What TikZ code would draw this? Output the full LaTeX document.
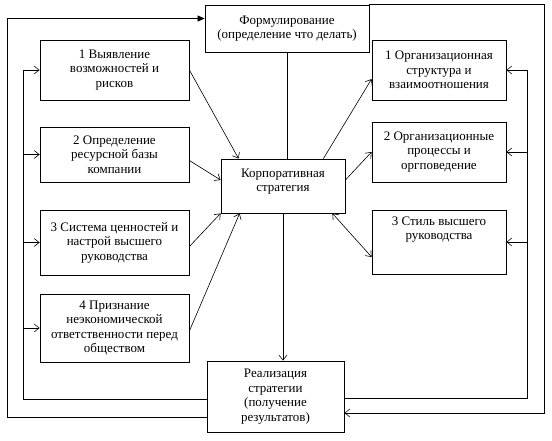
\documentclass[tikz,border=0pt]{standalone}
\usepackage{fontspec}
\setmainfont{Liberation Serif}
\usetikzlibrary{arrows.meta,shadows}

\tikzset{
    box/.style={draw, line width=0.8pt, fill=white, align=center, inner sep=2pt,
        font=\rmfamily\fontsize{13}{14.5}\selectfont,
        drop shadow={shadow xshift=1.4pt, shadow yshift=-1.4pt, fill=black!60, opacity=1}},
    arr/.style={-{Straight Barb[length=5pt,width=8pt]}, line width=0.6pt},
    farr/.style={-{Triangle[length=7pt,width=6pt]}, line width=0.6pt},
    link/.style={line width=0.6pt}
}

\begin{document}
\begin{tikzpicture}[x=1pt, y=-1pt]
    \useasboundingbox (0,0) rectangle (552,440);

    % First, locate each of the boxes and name them
        \node[box, minimum width=164pt, minimum height=47pt] (form) at (287,28.5) {Формулирование\\(определение что делать)};
        \node[box, minimum width=149pt, minimum height=60pt] (l1) at (114.5,70) {1 Выявление\\возможностей и\\рисков};
        \node[box, minimum width=149pt, minimum height=55pt] (l2) at (114.5,154.5) {2 Определение\\ресурсной базы\\компании};
        \node[box, minimum width=149pt, minimum height=65pt] (l3) at (114.5,242.5) {3 Система ценностей и\\настрой высшего\\руководства};
        \node[box, minimum width=149pt, minimum height=68pt] (l4) at (114.5,328) {4 Признание\\неэкономической\\ответственности перед\\обществом};
        \node[box, minimum width=124pt, minimum height=54pt, text depth=12pt] (center) at (283,186) {Корпоративная\\стратегия};
        \node[box, minimum width=134pt, minimum height=60pt] (r1) at (439,70) {1 Организационная\\структура и\\взаимоотношения};
        \node[box, minimum width=134pt, minimum height=60pt] (r2) at (439,152) {2 Организационные\\процессы и\\оргповедение};
        \node[box, minimum width=134pt, minimum height=64pt, text depth=28pt] (r3) at (439,242) {3 Стиль высшего\\руководства};
        \node[box, minimum width=137pt, minimum height=71pt] (real) at (275.5,396.5) {Реализация\\стратегии\\(получение\\результатов)};

    % Points for the feedback lines
        \coordinate (lbus) at (23,0);
        \coordinate (lout) at (7,0);
        \coordinate (rbus) at (527,0);
        \coordinate (rout) at (544,0);
        \coordinate (ftop) at ([yshift=10pt]form.west);
        \coordinate (lreal) at ([yshift=-2.5pt]real.west);
        \coordinate (lreal2) at ([yshift=-20.5pt]real.west);
        \coordinate (rreal) at ([yshift=-2pt]real.east);
        \coordinate (rreal2) at ([yshift=-16.5pt]real.east);

    % Now draw the lines:
        \draw[link] (form.south) -- (form.south |- center.north);
        \draw[arr] (center.south) -- (center.south |- real.north);
        \draw[arr] (l1.east) -- ([xshift=18pt]center.north west);
        \draw[arr] ([yshift=-6pt]l2.east) -- ([yshift=6pt]center.west);
        \draw[arr] ([yshift=-4pt]l3.east) -- (center.south west);
        \draw[arr] ([yshift=-3pt]l4.east) -- ([xshift=19pt]center.south west);
        \draw[arr] ([xshift=-22pt]center.north east) -- ([yshift=-9pt]r1.west);
        \draw[arr] ([yshift=6pt]center.east) -- (r2.west);
        \draw[arr, {Straight Barb[length=5pt,width=8pt]}-{Straight Barb[length=5pt,width=8pt]}] ([xshift=-13pt]center.south east) -- ([yshift=-15pt]r3.west);

    % Feedback on the left
        \draw[arr] (lreal) -| (lbus |- l1.west) -- (l1.west);
        \draw[arr] (lbus |- l2.west) -- (l2.west);
        \draw[arr] (lbus |- l3.west) -- (l3.west);
        \draw[arr] (lbus |- l4.west) -- (l4.west);
        \draw[farr] (lreal2) -| (lout |- ftop) -- (ftop);

    % Feedback on the right
        \draw[arr] (rreal) -| (rbus |- r1.east) -- (r1.east);
        \draw[arr] (rbus |- r2.east) -- (r2.east);
        \draw[arr] (rbus |- r3.east) -- (r3.east);
        \draw[arr] (form.north east) -- (rout |- form.north east) -- (rout |- rreal2) -- (rreal2);
    \end{tikzpicture}
\end{document}
